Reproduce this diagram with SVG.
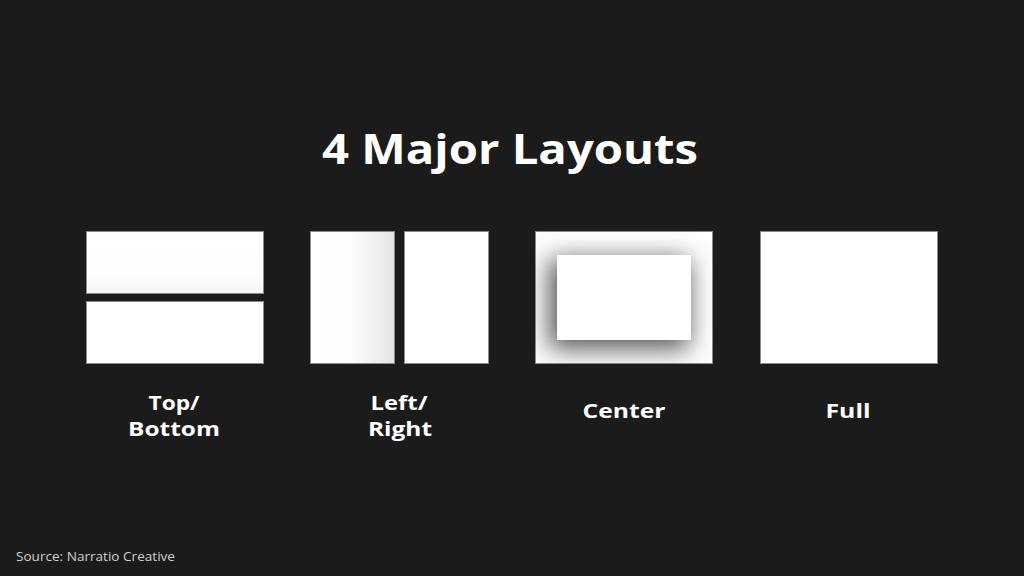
<svg xmlns="http://www.w3.org/2000/svg" width="1024" height="576" viewBox="0 0 1024 576">
<style>
.panel{fill:#ffffff;stroke:#8c8c8c;stroke-width:1}
.title{font-family:"Open Sans","Liberation Sans",sans-serif;font-weight:700;fill:#ffffff}
.lbl{font-family:"Open Sans","Liberation Sans",sans-serif;font-weight:700;font-size:19px;fill:#ffffff}
.src{font-family:"Open Sans","Liberation Sans",sans-serif;font-size:12px;fill:#d0d0d0}
</style>
<defs>
<linearGradient id="gLeft" x1="0" y1="0" x2="1" y2="0">
<stop offset="0" stop-color="#ffffff"/>
<stop offset="0.5" stop-color="#fdfdfd"/>
<stop offset="1" stop-color="#e4e4e4"/>
</linearGradient>
<linearGradient id="gTop" x1="0" y1="0" x2="0" y2="1">
<stop offset="0" stop-color="#ffffff"/>
<stop offset="0.7" stop-color="#fefefe"/>
<stop offset="1" stop-color="#f6f6f6"/>
</linearGradient>
<clipPath id="cCenter"><rect x="535" y="231" width="178" height="133"/></clipPath>
<filter id="blur" x="-50%" y="-50%" width="200%" height="200%"><feGaussianBlur stdDeviation="13"/></filter>
</defs>
<rect width="1024" height="576" fill="#1b1b1b"/>
<text class="title" x="510" y="164" font-size="42" text-anchor="middle" textLength="376" lengthAdjust="spacingAndGlyphs">4 Major Layouts</text>
<g id="top-bottom">
<rect class="panel" x="86.5" y="231.5" width="177" height="62" style="fill:url(#gTop)"/>
<rect class="panel" x="86.5" y="301.5" width="177" height="62"/>
<text class="lbl" x="174" y="410" text-anchor="middle" textLength="51" lengthAdjust="spacingAndGlyphs">Top/</text>
<text class="lbl" x="174" y="436" text-anchor="middle" textLength="92" lengthAdjust="spacingAndGlyphs">Bottom</text>
</g>
<g id="left-right">
<rect class="panel" x="310.5" y="231.5" width="84" height="132" style="fill:url(#gLeft)"/>
<rect class="panel" x="404.5" y="231.5" width="84" height="132"/>
<text class="lbl" x="399" y="410" text-anchor="middle" textLength="57" lengthAdjust="spacingAndGlyphs">Left/</text>
<text class="lbl" x="400" y="436" text-anchor="middle" textLength="64" lengthAdjust="spacingAndGlyphs">Right</text>
</g>
<g id="center">
<rect class="panel" x="535.5" y="231.5" width="177" height="132"/>
<g clip-path="url(#cCenter)">
<rect x="549" y="259" width="140" height="90" fill="#555555" filter="url(#blur)"/>
</g>
<rect x="557" y="255" width="134" height="85" fill="#ffffff"/>
<text class="lbl" x="624" y="418" text-anchor="middle" textLength="83" lengthAdjust="spacingAndGlyphs">Center</text>
</g>
<g id="full">
<rect class="panel" x="760.5" y="231.5" width="177" height="132"/>
<text class="lbl" x="848" y="418" text-anchor="middle" textLength="45" lengthAdjust="spacingAndGlyphs">Full</text>
</g>
<g id="connectors"/>
<text class="src" x="16" y="561" textLength="159" lengthAdjust="spacingAndGlyphs">Source: Narratio Creative</text>
</svg>
